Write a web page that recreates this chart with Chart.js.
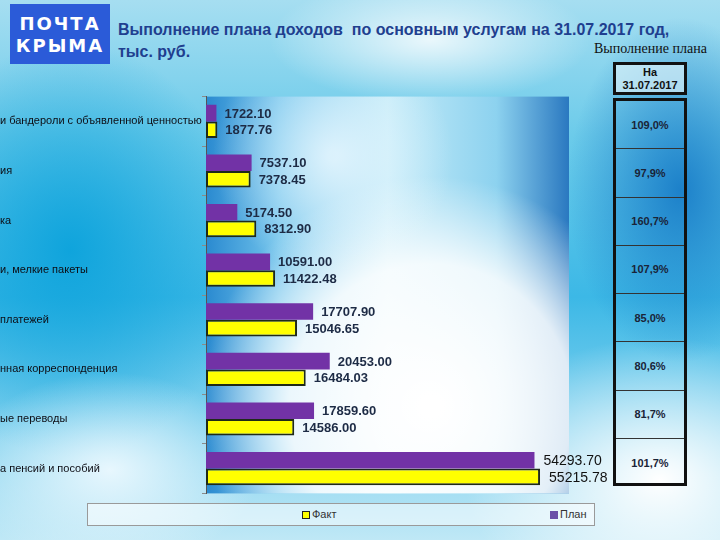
<!DOCTYPE html>
<html lang="ru">
<head>
<meta charset="utf-8">
<script src="https://cdn.jsdelivr.net/npm/chart.js@4.4.0/dist/chart.umd.min.js"></script>
<style>
  body {
    margin: 0; width: 720px; height: 540px; overflow: hidden; position: relative;
    font-family: Arial, "Liberation Sans", sans-serif;
    background:
      radial-gradient(ellipse 230px 90px at 430px 40px, rgba(255,255,255,0.8), rgba(255,255,255,0) 70%),
      radial-gradient(ellipse 150px 230px at 680px 190px, rgba(25,125,200,0.95), rgba(25,125,200,0) 75%),
      radial-gradient(ellipse 260px 190px at 660px 480px, #ffffff, rgba(255,255,255,0) 75%),
      radial-gradient(ellipse 200px 130px at 110px 470px, rgba(240,250,255,0.9), rgba(240,250,255,0) 75%),
      radial-gradient(ellipse 220px 260px at 70px 250px, #0fa4dc, rgba(15,164,220,0) 80%),
      linear-gradient(180deg, #a6def1 0%, #6ccbea 25%, #3cb8e6 55%, #bfe8f6 100%);
  }
  #logo {
    position: absolute; left: 10px; top: 4px; width: 100px; height: 60px;
    background: #2b5bd8; color: #fff; font-weight: bold; font-size: 18px;
    letter-spacing: 2px; line-height: 22px; text-align: center;
    padding-top: 9px; box-sizing: border-box; font-family: "DejaVu Sans", sans-serif;
  }
  #title {
    position: absolute; left: 118px; top: 19px; color: #1f3f8f;
    font-weight: bold; font-size: 16px; line-height: 22px; white-space: pre;
  }
  #sub {
    position: absolute; left: 594px; top: 41px; font-family: "Liberation Serif", serif;
    font-size: 14px; color: #111;
  }
  #head {
    position: absolute; left: 613px; top: 62px; width: 74px; height: 33px;
    border: 3px solid #111; box-sizing: border-box; background: rgba(235,248,252,0.6);
    text-align: center; font-weight: bold; font-size: 11px; line-height: 13px; padding-top: 1px; color: #111;
  }
  #tbl {
    position: absolute; left: 613px; top: 98px; width: 74px; height: 388px;
    border: 3px solid #111; box-sizing: border-box;
  }
  #tbl div {
    height: 48.25px; box-sizing: border-box; border-bottom: 1.5px solid #333;
    display: flex; align-items: center; justify-content: center;
    font-weight: bold; font-size: 11px; color: #1a2438;
  }
  #tbl div:last-child { border-bottom: none; }
  #chart { position: absolute; left: 0; top: 90px; }
  #legend {
    position: absolute; left: 87px; top: 503px; width: 508px; height: 23px;
    border: 1px solid #9a9a9a; box-sizing: border-box; background: rgba(255,255,255,0.5);
    font-size: 11px; color: #333; overflow: hidden;
  }
  #legend span { position: absolute; top: 4px; white-space: nowrap; }
  #legend i {
    display: inline-block; width: 6px; height: 6px; border: 1px solid #222;
    margin-right: 2px; vertical-align: -1px;
  }
</style>
</head>
<body>
<div id="logo">ПОЧТА<br>КРЫМА</div>
<div id="title">Выполнение плана доходов  по основным услугам на 31.07.2017 год,
тыс. руб.</div>
<div id="sub">Выполнение плана</div>
<div id="head">На<br>31.07.2017</div>
<div id="tbl"></div>
<canvas id="chart" width="610" height="410"></canvas>
<div id="legend"></div>
<script>
// Данные (подписи категорий обрезаны краем слайда)
const categories = [
  "и бандероли с объявленной ценностью",
  "ия",
  "ка",
  "и, мелкие пакеты",
  "платежей",
  "нная корреспонденция",
  "ые переводы",
  "а пенсий и пособий",
];
const planValues = [1722.10, 7537.10, 5174.50, 10591.00, 17707.90, 20453.00, 17859.60, 54293.70];
const factValues = [1877.76, 7378.45, 8312.90, 11422.48, 15046.65, 16484.03, 14586.00, 55215.78];
const planPct = ["109,0%", "97,9%", "160,7%", "107,9%", "85,0%", "80,6%", "81,7%", "101,7%"];
const seriesNames = ["План", "Факт"];
const xMax = 60000;

// Таблица выполнения плана
const tbl = document.getElementById("tbl");
planPct.forEach((p) => {
  tbl.innerHTML += `<div>${p}</div>`;
});

// Легенда
document.getElementById("legend").innerHTML = `
  <span style="left:214px"><i style="background:#ffff00"></i>${seriesNames[1]}</span>
  <span style="left:462px"><i style="background:#6a4fa8;border-color:#6a4fa8"></i>${seriesNames[0]}</span>
`;

// Фон области построения
const plotBg = {
  id: "plotBg",
  beforeDraw(chart) {
    const { ctx, chartArea: a } = chart;
    const w = a.right - a.left, h = a.bottom - a.top;
    ctx.save();
    let g = ctx.createLinearGradient(a.left, 0, a.right, 0);
    g.addColorStop(0, "#2a8ad0");
    g.addColorStop(0.2, "#72c4ec");
    g.addColorStop(0.5, "#c4ebf8");
    g.addColorStop(0.8, "#8dd2ef");
    g.addColorStop(1, "#2a78c0");
    ctx.fillStyle = g;
    ctx.fillRect(a.left, a.top, w, h);
    let r = ctx.createRadialGradient(a.left + w * 0.62, a.top + h * 0.78, 10, a.left + w * 0.62, a.top + h * 0.78, 230);
    r.addColorStop(0, "rgba(255,255,255,1)");
    r.addColorStop(0.6, "rgba(255,255,255,0.85)");
    r.addColorStop(1, "rgba(255,255,255,0)");
    ctx.fillStyle = r;
    ctx.fillRect(a.left, a.top, w, h);
    let r2 = ctx.createRadialGradient(a.left + w * 0.35, a.top + h * 0.15, 5, a.left + w * 0.35, a.top + h * 0.15, 120);
    r2.addColorStop(0, "rgba(235,248,255,0.8)");
    r2.addColorStop(1, "rgba(235,248,255,0)");
    ctx.fillStyle = r2;
    ctx.fillRect(a.left, a.top, w, h);
    ctx.restore();
  },
};

// Подписи значений
const valueLabels = {
  id: "valueLabels",
  afterDatasetsDraw(chart) {
    const { ctx } = chart;
    ctx.save();
    ctx.textBaseline = "middle";
    ctx.textAlign = "left";
    chart.data.datasets.forEach((ds, di) => {
      chart.getDatasetMeta(di).data.forEach((bar, i) => {
        const last = i === categories.length - 1;
        ctx.font = last ? "14px Arial" : "bold 13px Arial";
        ctx.fillStyle = last ? "#111" : "#1d2b45";
        ctx.fillText(ds.data[i].toFixed(2), bar.x + (last ? 9 : 8), bar.y + 1);
      });
    });
    ctx.restore();
  },
};

new Chart(document.getElementById("chart"), {
  type: "bar",
  data: {
    labels: categories,
    datasets: [
      {
        label: seriesNames[0],
        data: planValues,
        backgroundColor: "#7232a6",
        borderWidth: 0,
      },
      {
        label: seriesNames[1],
        data: factValues,
        backgroundColor: "#ffff00",
        borderColor: "#1f2a18",
        borderWidth: 2,
        borderSkipped: false,
      },
    ],
  },
  options: {
    indexAxis: "y",
    responsive: false,
    animation: false,
    devicePixelRatio: 1,
    layout: { padding: { top: 5, bottom: 6, right: 41, left: 0 } },
    datasets: { bar: { categoryPercentage: 0.67, barPercentage: 1 } },
    plugins: { legend: { display: false }, tooltip: { enabled: false } },
    scales: {
      x: { display: false, min: 0, max: xMax },
      y: {
        afterFit(scale) { scale.width = 206; },
        ticks: { crossAlign: "far", color: "#0d0d14", font: { family: "Arial", size: 11 }, padding: 0 },
        grid: { drawOnChartArea: false, drawTicks: true, tickLength: 4, color: "#8a8a8a" },
        border: { display: true, color: "#555", width: 1 },
      },
    },
  },
  plugins: [plotBg, valueLabels],
});
</script>
</body>
</html>
